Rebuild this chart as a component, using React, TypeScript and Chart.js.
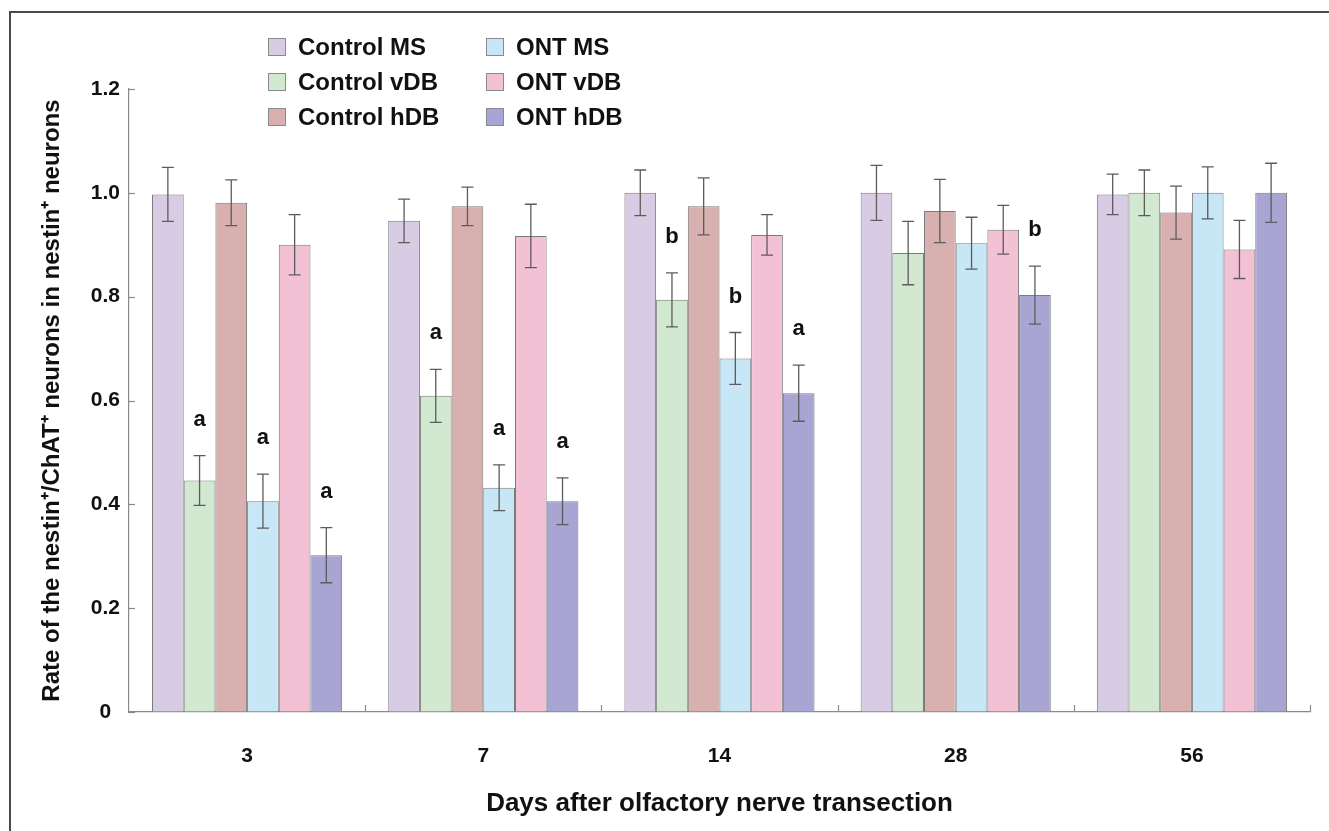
import React, { useEffect, useRef } from 'react';
import { Chart, registerables } from 'chart.js';

Chart.register(...registerables);

const FONT = "'Liberation Sans', Arial, Helvetica, sans-serif";

const categories = ['3', '7', '14', '28', '56'];
const seriesNames = ['Control MS', 'Control vDB', 'Control hDB', 'ONT MS', 'ONT vDB', 'ONT hDB'];
const seriesColors = ['#D8CCE4', '#D2E8D1', '#D9B0B0', '#C7E7F6', '#F2C1D4', '#A9A5D3'];

const controlMS = [0.997, 0.946, 1.0, 1.0, 0.997];
const controlMSErr = [0.052, 0.042, 0.044, 0.053, 0.039];
const controlVDB = [0.446, 0.609, 0.794, 0.884, 1.0];
const controlVDBErr = [0.048, 0.051, 0.052, 0.061, 0.044];
const controlHDB = [0.981, 0.974, 0.974, 0.965, 0.962];
const controlHDBErr = [0.044, 0.037, 0.055, 0.061, 0.051];
const ontMS = [0.406, 0.432, 0.681, 0.903, 1.0];
const ontMSErr = [0.052, 0.044, 0.05, 0.05, 0.05];
const ontVDB = [0.9, 0.917, 0.919, 0.929, 0.891];
const ontVDBErr = [0.058, 0.061, 0.039, 0.047, 0.056];
const ontHDB = [0.302, 0.406, 0.614, 0.803, 1.0];
const ontHDBErr = [0.053, 0.045, 0.054, 0.056, 0.057];

const noMarks = ['', '', '', '', ''];
const controlVDBMarks = ['a', 'a', 'b', '', ''];
const ontMSMarks = ['a', 'a', 'b', '', ''];
const ontHDBMarks = ['a', 'a', 'a', 'b', ''];

const yMin = 0;
const yMax = 1.2;
const yStep = 0.2;

const xTitle = 'Days after olfactory nerve transection';
const yTitle = 'Rate of the nestin\u207A/ChAT\u207A neurons in nestin\u207A neurons';

const seriesValues = [controlMS, controlVDB, controlHDB, ontMS, ontVDB, ontHDB];
const seriesErrors = [controlMSErr, controlVDBErr, controlHDBErr, ontMSErr, ontVDBErr, ontHDBErr];
const seriesMarks = [noMarks, controlVDBMarks, noMarks, ontMSMarks, noMarks, ontHDBMarks];

const framePlugin = {
  id: 'frame',
  beforeDraw(chart: any) {
    const { ctx, width, height } = chart;
    ctx.save();
    ctx.fillStyle = '#ffffff';
    ctx.fillRect(0, 0, width, height);
    ctx.strokeStyle = '#4a4a4a';
    ctx.lineWidth = 2;
    ctx.beginPath();
    ctx.moveTo(10, height + 2);
    ctx.lineTo(10, 12);
    ctx.lineTo(width + 2, 12);
    ctx.stroke();
    ctx.restore();
  },
};

const decorPlugin = {
  id: 'decor',
  afterDatasetsDraw(chart: any) {
    const { ctx, chartArea } = chart;
    const yScale = chart.scales.y;
    const xScale = chart.scales.x;
    ctx.save();
    // inward tick marks
    ctx.strokeStyle = '#8a8a8a';
    ctx.lineWidth = 1.2;
    yScale.ticks.forEach((t: any) => {
      const y = Math.round(yScale.getPixelForValue(t.value)) + 0.5;
      ctx.beginPath();
      ctx.moveTo(chartArea.left, y);
      ctx.lineTo(chartArea.left + 6, y);
      ctx.stroke();
    });
    const n = xScale.ticks.length;
    const step = (chartArea.right - chartArea.left) / n;
    for (let i = 1; i <= n; i++) {
      const x = Math.round(chartArea.left + i * step) + 0.5;
      ctx.beginPath();
      ctx.moveTo(x, chartArea.bottom);
      ctx.lineTo(x, chartArea.bottom - 7);
      ctx.stroke();
    }
    // error bars and letters
    chart.data.datasets.forEach((ds: any, di: number) => {
      const meta = chart.getDatasetMeta(di);
      meta.data.forEach((el: any, i: number) => {
        const v = ds.data[i];
        const e = ds.errors[i];
        const yTop = yScale.getPixelForValue(v + e);
        const yBot = yScale.getPixelForValue(v - e);
        const x = el.x;
        ctx.strokeStyle = '#5c5c5c';
        ctx.lineWidth = 1.3;
        ctx.beginPath();
        ctx.moveTo(x, yTop);
        ctx.lineTo(x, yBot);
        ctx.moveTo(x - 6, yTop);
        ctx.lineTo(x + 6, yTop);
        ctx.moveTo(x - 6, yBot);
        ctx.lineTo(x + 6, yBot);
        ctx.stroke();
        const mark = ds.marks[i];
        if (mark) {
          ctx.fillStyle = '#111111';
          ctx.font = `bold 22px ${FONT}`;
          ctx.textAlign = 'center';
          ctx.textBaseline = 'middle';
          ctx.fillText(mark, x, yTop - 36);
        }
      });
    });
    ctx.restore();
  },
  afterDraw(chart: any) {
    const { ctx } = chart;
    ctx.save();
    const colX = [268, 486];
    const rowY = [47, 82, 117];
    chart.data.datasets.forEach((ds: any, i: number) => {
      const col = i < 3 ? 0 : 1;
      const row = i % 3;
      const bx = colX[col];
      const by = rowY[row];
      ctx.fillStyle = ds.backgroundColor;
      ctx.fillRect(bx, by - 9, 18, 18);
      ctx.strokeStyle = '#8a8a8a';
      ctx.lineWidth = 1;
      ctx.strokeRect(bx + 0.5, by - 8.5, 17, 17);
      ctx.fillStyle = '#111111';
      ctx.font = `bold 24px ${FONT}`;
      ctx.textAlign = 'left';
      ctx.textBaseline = 'middle';
      ctx.fillText(ds.label, bx + 30, by + 1);
    });
    ctx.restore();
  },
};

export default function App() {
  const canvasRef = useRef<HTMLCanvasElement | null>(null);

  useEffect(() => {
    if (!canvasRef.current) return;
    const datasets = seriesNames.map((name, i) => ({
      label: name,
      data: seriesValues[i],
      errors: seriesErrors[i],
      marks: seriesMarks[i],
      backgroundColor: seriesColors[i],
      borderColor: '#7a7a7a',
      borderWidth: 1,
      barPercentage: 1.0,
      categoryPercentage: 0.805,
    }));
    const chart = new Chart(canvasRef.current, {
      type: 'bar',
      data: { labels: categories, datasets: datasets as any },
      options: {
        animation: false,
        responsive: true,
        maintainAspectRatio: false,
        devicePixelRatio: 1,
        layout: { padding: { top: 89, right: 19, left: 0, bottom: 0 } },
        plugins: {
          legend: { display: false },
          tooltip: { enabled: false },
          title: { display: false },
        },
        scales: {
          x: {
            afterFit: (s: any) => {
              s.height = 119;
            },
            grid: { display: true, drawOnChartArea: false, drawTicks: false },
            border: { display: true, color: '#8a8a8a', width: 1.2 },
            ticks: {
              color: '#111111',
              padding: 32,
              font: { family: FONT, size: 21, weight: 'bold' },
            },
            title: {
              display: true,
              text: xTitle,
              color: '#111111',
              font: { family: FONT, size: 26, weight: 'bold' },
              padding: { top: 0, bottom: 12 },
            },
          },
          y: {
            min: yMin,
            max: yMax,
            afterFit: (s: any) => {
              s.width = 129;
            },
            grid: { display: true, drawOnChartArea: false, drawTicks: false },
            border: { display: true, color: '#8a8a8a', width: 1.2 },
            ticks: {
              stepSize: yStep,
              color: '#111111',
              padding: 9,
              crossAlign: 'center',
              font: { family: FONT, size: 21, weight: 'bold' },
              callback: (v: any) => (Number(v) === 0 ? '0' : Number(v).toFixed(1)),
            },
            title: {
              display: true,
              text: yTitle,
              color: '#111111',
              font: { family: FONT, size: 24, weight: 'bold' },
              padding: { top: 38, bottom: 0 },
            },
          },
        },
      },
      plugins: [framePlugin, decorPlugin],
    });
    return () => chart.destroy();
  }, []);

  return (
    <div
      style={{
        position: 'fixed',
        left: 0,
        top: 0,
        width: '1329px',
        height: '831px',
        background: '#ffffff',
      }}
    >
      <canvas ref={canvasRef} />
    </div>
  );
}
